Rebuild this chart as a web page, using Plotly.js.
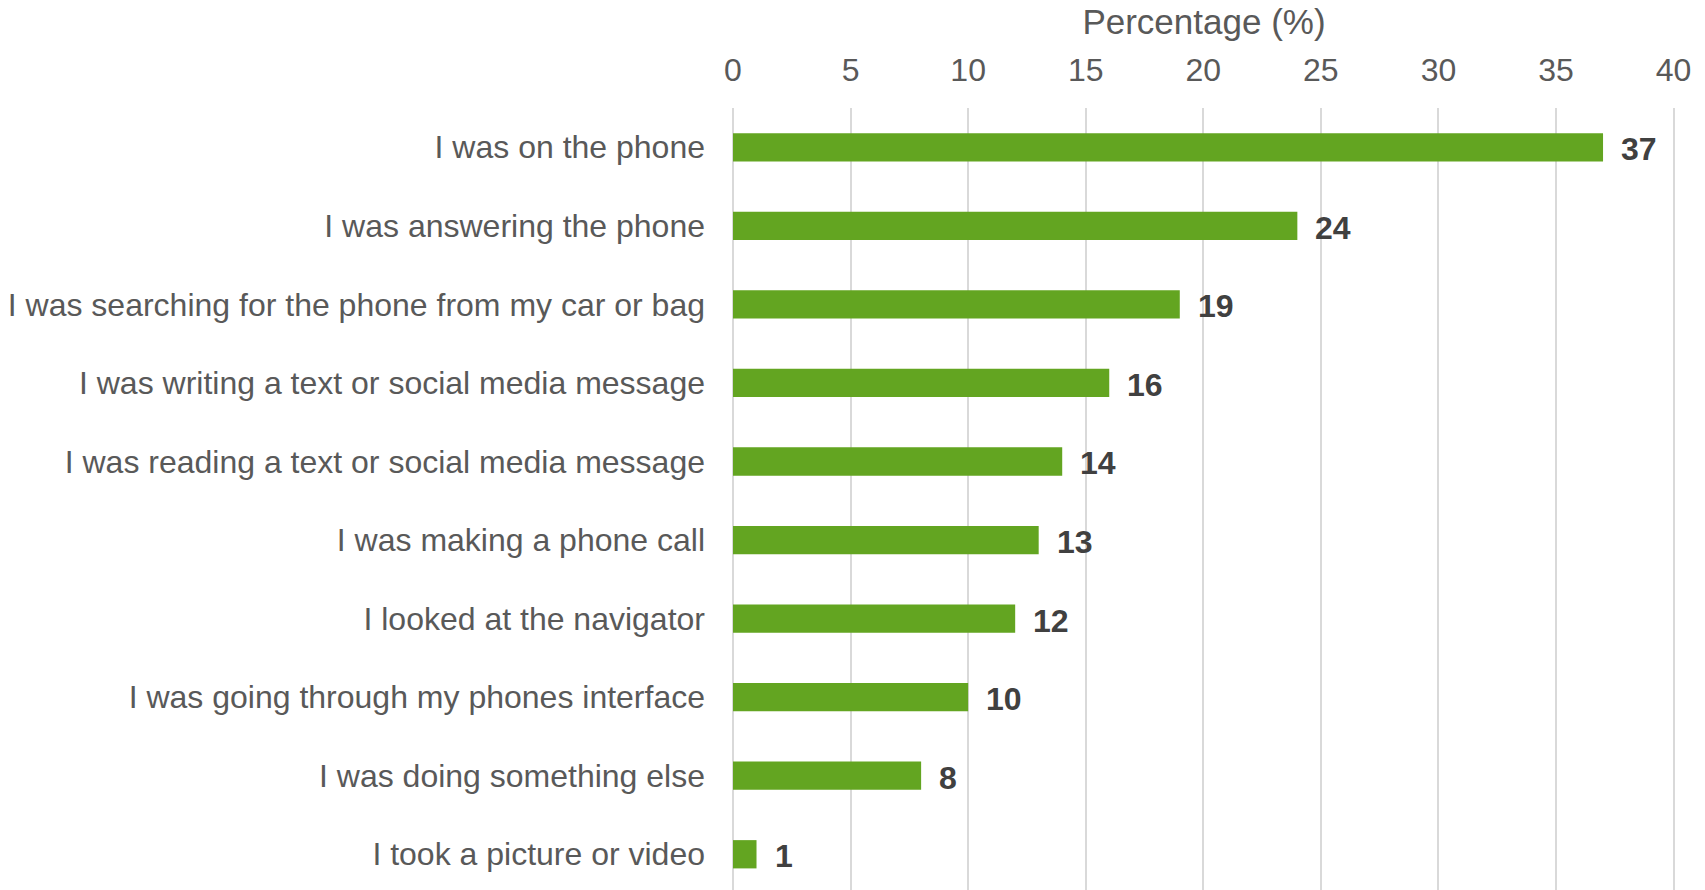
<!DOCTYPE html>
<html>
<head>
<meta charset="utf-8">
<script src="https://cdn.plot.ly/plotly-3.0.1.min.js"></script>
<style>
html,body{margin:0;padding:0;background:#fff;}
#chart{width:1705px;height:890px;}
</style>
</head>
<body>
<div id="chart"></div>
<script>
const categories = [
  "I was on the phone",
  "I was answering the phone",
  "I was searching for the phone from my car or bag",
  "I was writing a text or social media message",
  "I was reading a text or social media message",
  "I was making a phone call",
  "I looked at the navigator",
  "I was going through my phones interface",
  "I was doing something else",
  "I took a picture or video"
];
const values = [37, 24, 19, 16, 14, 13, 12, 10, 8, 1];
const xTicks = [0, 5, 10, 15, 20, 25, 30, 35, 40];

const FONT = "Liberation Sans, Arial, sans-serif";

const trace = {
  type: "bar",
  orientation: "h",
  x: values,
  y: categories,
  marker: {color: "#63A521"},
  hoverinfo: "x+y"
};

const annotations = values.map((v, i) => ({
  x: v, y: categories[i], xref: "x", yref: "y",
  text: "<b>" + v + "</b>", showarrow: false,
  xanchor: "left", xshift: 16, yshift: -2,
  font: {family: FONT, size: 32, color: "#404040"}
}));

const layout = {
  width: 1705, height: 890,
  margin: {l: 733, r: 30, t: 108, b: 0},
  paper_bgcolor: "#fff", plot_bgcolor: "#fff",
  showlegend: false,
  bargap: 0.64,
  xaxis: {
    side: "top",
    range: [0, 40.06],
    tickvals: xTicks,
    ticktext: xTicks.map(String),
    showgrid: true, gridcolor: "#D9D9D9", gridwidth: 2,
    zeroline: true, zerolinecolor: "#D9D9D9", zerolinewidth: 2,
    showline: false, ticks: "",
    ticklabelstandoff: 20,
    tickfont: {family: FONT, size: 32, color: "#595959"},
    title: {text: "Percentage (%)", font: {family: FONT, size: 35, color: "#595959"}, standoff: 6},
    fixedrange: true
  },
  yaxis: {
    type: "category",
    range: [9.455, -0.5],
    showgrid: false, zeroline: false, showline: false, ticks: "",
    ticklabelstandoff: 27,
    tickfont: {family: FONT, size: 32, color: "#595959"},
    fixedrange: true
  },
  annotations: annotations
};

Plotly.newPlot("chart", [trace], layout, {displayModeBar: false, staticPlot: true});
</script>
</body>
</html>
